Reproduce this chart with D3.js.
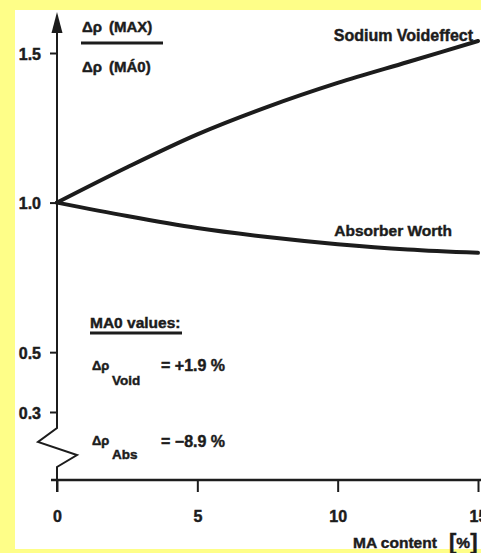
<!DOCTYPE html>
<html>
<head>
<meta charset="utf-8">
<script src="https://cdn.jsdelivr.net/npm/d3@7"></script>
<style>
  html, body { margin: 0; padding: 0; background: #fefe88; }
  svg { display: block; }
  text { font-family: "Liberation Sans", Arial, Helvetica, sans-serif; font-weight: bold; fill: #1c1c1c; stroke: #1c1c1c; stroke-width: 0.45px; }
</style>
</head>
<body>
<svg id="chart" width="481" height="553"></svg>
<script>
// MA content (%) at which each curve is read
const maContent = [0, 2.5, 5, 7.5, 10, 12.5, 15];
// Ratio Δρ(MAX) / Δρ(MA0) for each effect
const sodiumVoid = [1.0, 1.118, 1.228, 1.32, 1.40, 1.47, 1.54];
const absorberWorth = [1.0, 0.955, 0.915, 0.885, 0.861, 0.843, 0.832];

const xTicks = [0, 5, 10, 15];
const yTicks = [0.3, 0.5, 1.0, 1.5];
const yTickLabels = ["0.3", "0.5", "1.0", "1.5"];

const ink = "#1c1c1c";
const svg = d3.select("#chart");

// paper area
svg.append("rect").attr("x", 15).attr("y", 10).attr("width", 466).attr("height", 539).attr("fill", "#ffffff");

const x = d3.scaleLinear().domain([0, 15]).range([57, 478]);
const y = d3.scaleLinear().domain([0.3, 1.5]).range([412, 53]);
const xAxisY = 480;

// y axis with a broken section below 0.3
const yAxis = d3.axisLeft(y).tickValues(yTicks).tickSize(7).tickPadding(9)
  .tickFormat((d, i) => yTickLabels[i]);
const gy = svg.append("g").attr("transform", `translate(${x(0)},0)`).call(yAxis);
gy.select(".domain").remove();
gy.selectAll(".tick line").attr("stroke", ink).attr("stroke-width", 2);
gy.selectAll(".tick text").attr("font-size", 16).attr("fill", ink).attr("dy", "0.38em")
  .style("font-family", "Liberation Sans, Arial, sans-serif").style("font-weight", "bold");

const x0 = x(0);
svg.append("path")
  .attr("d", `M${x0},28 L${x0},428 L${x0 - 19},442 L${x0 + 20},455 L${x0},467 L${x0},492`)
  .attr("fill", "none").attr("stroke", ink).attr("stroke-width", 2);
// arrow head
svg.append("path")
  .attr("d", `M${x0},12 L${x0 - 5.5},33 L${x0 + 5.5},33 Z`)
  .attr("fill", ink);

// x axis
const xAxis = d3.axisBottom(x).tickValues(xTicks).tickSize(12).tickPadding(19).tickFormat(d3.format("d"));
const gx = svg.append("g").attr("transform", `translate(0,${xAxisY})`).call(xAxis);
gx.select(".domain").remove();
gx.selectAll(".tick line").attr("stroke", ink).attr("stroke-width", 2);
gx.selectAll(".tick text").attr("font-size", 16).attr("fill", ink)
  .style("font-family", "Liberation Sans, Arial, sans-serif").style("font-weight", "bold");
svg.append("line").attr("x1", 51).attr("x2", 481).attr("y1", xAxisY).attr("y2", xAxisY)
  .attr("stroke", ink).attr("stroke-width", 2.5);

// curves
const line = d3.line().x((d, i) => x(maContent[i])).y(d => y(d)).curve(d3.curveMonotoneX);
[sodiumVoid, absorberWorth].forEach(series => {
  svg.append("path").datum(series).attr("d", line)
    .attr("fill", "none").attr("stroke", ink).attr("stroke-width", 4).attr("stroke-linecap", "round");
});

// curve labels
svg.append("text").attr("x", 473).attr("y", 41).attr("text-anchor", "end").attr("font-size", 16).text("Sodium Voideffect");
svg.append("text").attr("x", 452).attr("y", 236).attr("text-anchor", "end").attr("font-size", 15.5).text("Absorber Worth");

// y axis title as a fraction
svg.append("text").attr("x", 82).attr("y", 32).attr("font-size", 15).text("Δρ");
svg.append("text").attr("x", 109).attr("y", 32).attr("font-size", 15).text("(MAX)");
svg.append("line").attr("x1", 81).attr("x2", 163).attr("y1", 43).attr("y2", 43).attr("stroke", ink).attr("stroke-width", 3);
svg.append("text").attr("x", 82).attr("y", 72).attr("font-size", 15).text("Δρ");
svg.append("text").attr("x", 109).attr("y", 72).attr("font-size", 15).text("(MÁ0)");

// reference values at MA0
svg.append("text").attr("x", 90).attr("y", 328).attr("font-size", 15.5).text("MA0 values:");
svg.append("line").attr("x1", 90).attr("x2", 182).attr("y1", 333).attr("y2", 333).attr("stroke", ink).attr("stroke-width", 3);

svg.append("text").attr("x", 92).attr("y", 370).attr("font-size", 13).text("Δρ");
svg.append("text").attr("x", 112).attr("y", 385).attr("font-size", 13.5).text("Void");
svg.append("text").attr("x", 161).attr("y", 371).attr("font-size", 16).text("= +1.9 %");

svg.append("text").attr("x", 92).attr("y", 445).attr("font-size", 13).text("Δρ");
svg.append("text").attr("x", 112).attr("y", 459).attr("font-size", 13.5).text("Abs");
svg.append("text").attr("x", 161).attr("y", 447).attr("font-size", 16).text("= −8.9 %");

// x axis title
svg.append("text").attr("x", 353).attr("y", 548).attr("font-size", 15.5).text("MA content");
const unit = svg.append("text").attr("x", 449).attr("y", 548);
unit.append("tspan").attr("font-size", 22).attr("dy", 1).text("[");
unit.append("tspan").attr("font-size", 15.5).attr("dy", -1).text("%");
unit.append("tspan").attr("font-size", 22).attr("dy", 1).text("]");
</script>
</body>
</html>
